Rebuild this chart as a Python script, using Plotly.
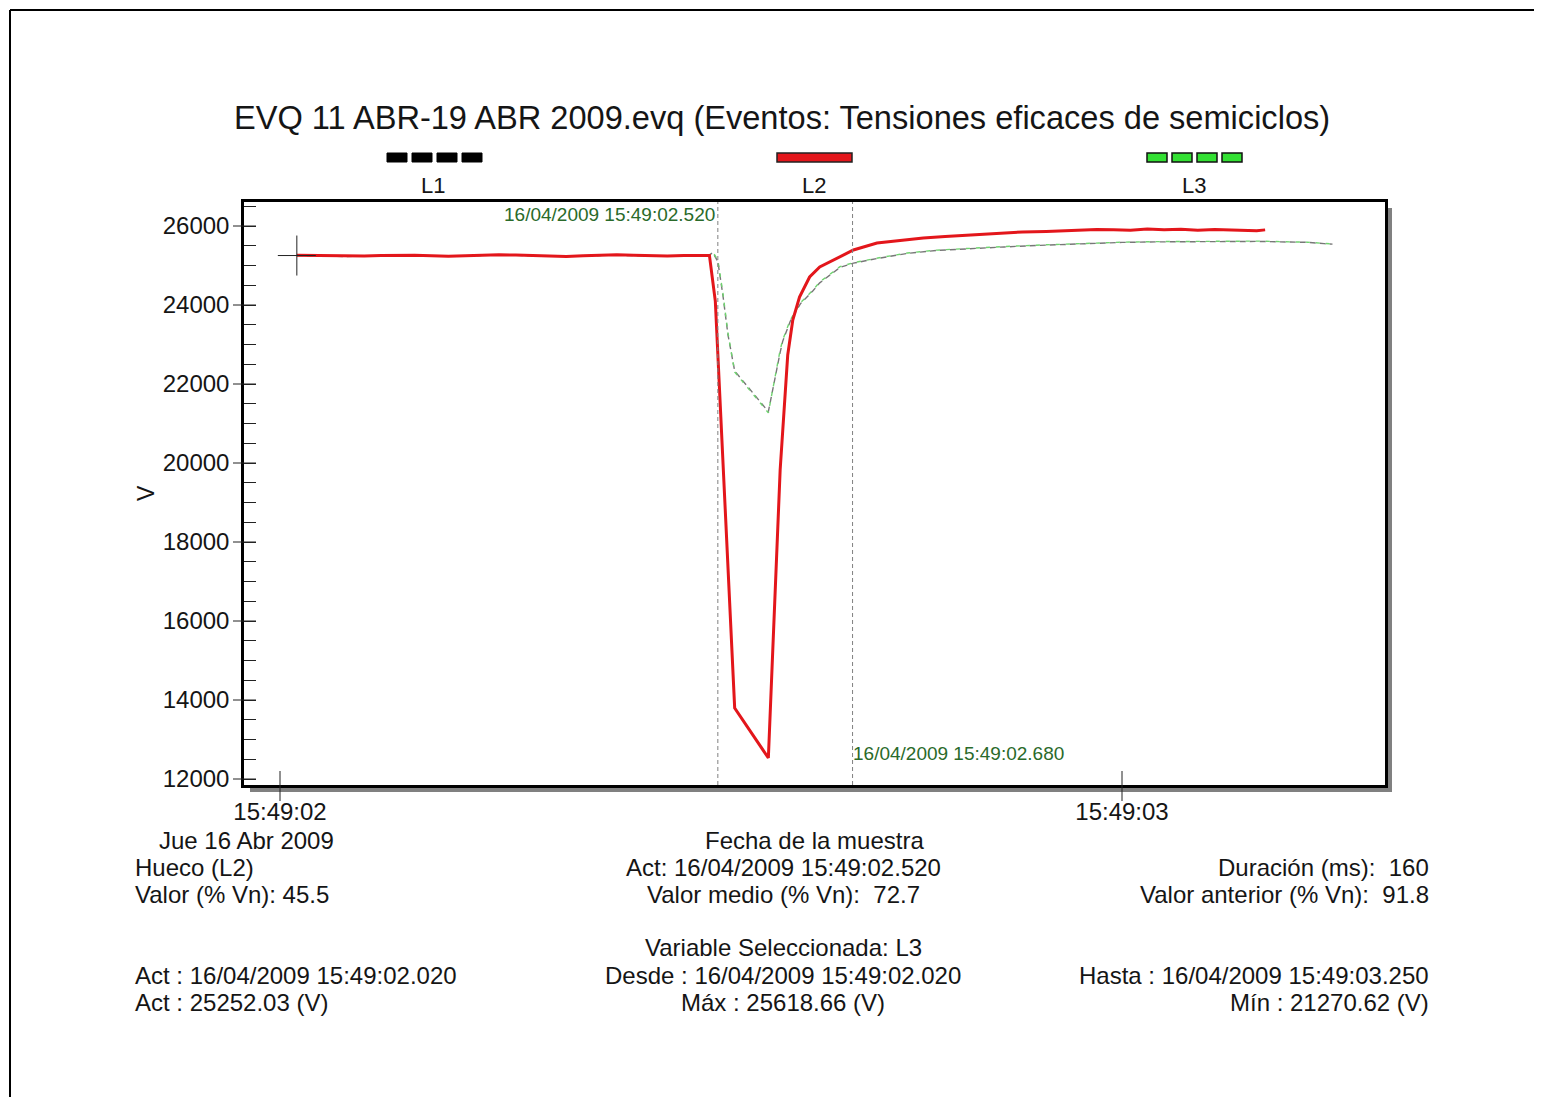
import plotly.graph_objects as go

# ---------------- data (seconds after 15:49:02, volts) ----------------
l2_t = [0.02, 0.04, 0.06, 0.08, 0.10, 0.12, 0.14, 0.16, 0.18, 0.20, 0.22, 0.24, 0.26,
        0.28, 0.30, 0.32, 0.34, 0.36, 0.38, 0.40, 0.42, 0.44, 0.46, 0.48, 0.50,
        0.510, 0.517, 0.540, 0.580, 0.594, 0.603, 0.609, 0.617, 0.629, 0.641, 0.665,
        0.681, 0.709, 0.74, 0.764, 0.79, 0.823, 0.85, 0.882, 0.91, 0.94, 0.97,
        0.99, 1.01, 1.03, 1.05, 1.07, 1.09, 1.11, 1.13, 1.15, 1.16, 1.17]
l2_v = [25262, 25258, 25250, 25232, 25240, 25256, 25268, 25262, 25250, 25236, 25244, 25260, 25272,
        25266, 25252, 25238, 25230, 25248, 25262, 25270, 25258, 25246, 25240, 25252, 25258,
        25255, 24100, 13797, 12532, 19823, 22734, 23620, 24203, 24709, 24962, 25215,
        25392, 25570, 25640, 25696, 25735, 25772, 25800, 25850, 25862, 25885, 25911,
        25905, 25895, 25925, 25905, 25915, 25890, 25912, 25898, 25878, 25882, 25902]

l13_t = [0.02, 0.04, 0.06, 0.08, 0.10, 0.12, 0.14, 0.16, 0.18, 0.20, 0.22, 0.24, 0.26,
         0.28, 0.30, 0.32, 0.34, 0.36, 0.38, 0.40, 0.42, 0.44, 0.46, 0.48, 0.50,
         0.510, 0.514, 0.520, 0.526, 0.532, 0.540, 0.580, 0.594, 0.597, 0.606, 0.618,
         0.633, 0.641, 0.665, 0.681, 0.71, 0.745, 0.78, 0.823, 0.86, 0.903, 0.94, 0.97,
         1.00, 1.04, 1.08, 1.12, 1.16, 1.20, 1.22, 1.24, 1.25]
l3_v = [25252, 25246, 25240, 25228, 25236, 25250, 25262, 25258, 25244, 25232, 25240, 25255, 25266,
        25260, 25248, 25234, 25226, 25242, 25256, 25264, 25254, 25242, 25236, 25248, 25254,
        25260, 25342, 25139, 24300, 23300, 22304, 21271, 22861, 23114, 23620, 24051,
        24380, 24582, 24970, 25071, 25190, 25316, 25390, 25443, 25480, 25519, 25550, 25577,
        25590, 25605, 25612, 25600, 25618, 25598, 25590, 25560, 25545]
l1_v = [25258, 25250, 25236, 25226, 25242, 25254, 25264, 25256, 25240, 25230, 25246, 25258, 25268,
        25258, 25244, 25230, 25232, 25250, 25260, 25262, 25250, 25240, 25242, 25254, 25256,
        25262, 25330, 25100, 24250, 23250, 22330, 21300, 22800, 23080, 23590, 24030,
        24360, 24560, 24950, 25060, 25180, 25305, 25380, 25435, 25470, 25510, 25545, 25570,
        25585, 25598, 25606, 25596, 25610, 25594, 25586, 25555, 25540]

x_tickvals = [0, 1]
x_ticktext = ["15:49:02", "15:49:03"]
y_tickvals = [12000, 14000, 16000, 18000, 20000, 22000, 24000, 26000]
cursor_times = [0.520, 0.680]
cursor_labels = ["16/04/2009 15:49:02.520", "16/04/2009 15:49:02.680"]
act_point = (0.020, 25252.03)

# ---------------- geometry helpers (reference pixel coordinates) ----------------
W, H = 1542, 1097
OFF = 8  # page body margin
L, R, T, B = 244, 1385, 202, 785
def px(x): return (x - L) / (R - L)
def py(y): return (B - y) / (B - T)

FONT = "Liberation Sans, Arial, sans-serif"
TXT = "#151515"
GREEN_TXT = "#2a6a2a"

fig = go.Figure()
fig.add_trace(go.Scatter(x=l13_t, y=l1_v, mode="lines", name="L1",
                         line=dict(color="#777777", width=1.4, dash="6px,4px")))
fig.add_trace(go.Scatter(x=l13_t, y=l3_v, mode="lines", name="L3",
                         line=dict(color="#6fd36f", width=1.4, dash="4px,6px")))
fig.add_trace(go.Scatter(x=l2_t, y=l2_v, mode="lines", name="L2",
                         line=dict(color="#e3161b", width=3)))

shapes = []
for ct in cursor_times:
    shapes.append(dict(type="line", xref="x", yref="paper", x0=ct, x1=ct, y0=0, y1=1,
                       line=dict(color="#808080", width=1, dash="4px,3px")))
shapes.append(dict(type="line", xref="x", yref="y", xsizemode="pixel", xanchor=act_point[0],
                   x0=-19, x1=19, y0=act_point[1], y1=act_point[1],
                   line=dict(color="#222222", width=1)))
shapes.append(dict(type="line", xref="x", yref="y", ysizemode="pixel", yanchor=act_point[1],
                   y0=-20, y1=20, x0=act_point[0], x1=act_point[0],
                   line=dict(color="#222222", width=1)))
# y major ticks crossing the axis
for v in y_tickvals:
    shapes.append(dict(type="line", xref="paper", yref="y", x0=-11 / (R - L), x1=12 / (R - L),
                       y0=v, y1=v, line=dict(color="#222222", width=1)))
# x major ticks crossing the axis
for v in x_tickvals:
    shapes.append(dict(type="line", xref="x", yref="paper", x0=v, x1=v,
                       y0=-16 / (B - T), y1=14 / (B - T),
                       line=dict(color="#222222", width=1)))
# frame shadow
shapes.append(dict(type="rect", xref="paper", yref="paper", x0=px(1386), x1=px(1392),
                   y0=py(792), y1=py(208), fillcolor="#808080", line=dict(width=0), layer="below"))
shapes.append(dict(type="rect", xref="paper", yref="paper", x0=px(250), x1=px(1392),
                   y0=py(792), y1=py(786), fillcolor="#808080", line=dict(width=0), layer="below"))
# page border (top and left)
shapes.append(dict(type="line", xref="paper", yref="paper", x0=px(10), x1=px(1541),
                   y0=py(10), y1=py(10), line=dict(color="#000000", width=2)))
shapes.append(dict(type="line", xref="paper", yref="paper", x0=px(10), x1=px(10),
                   y0=py(10), y1=py(1097), line=dict(color="#000000", width=2)))
# legend swatches
for i in range(4):
    x0 = 387 + i * 25
    shapes.append(dict(type="rect", xref="paper", yref="paper", x0=px(x0), x1=px(x0 + 20),
                       y0=py(162), y1=py(153), fillcolor="#000000", line=dict(color="#000000", width=1)))
    x0 = 1147 + i * 25
    shapes.append(dict(type="rect", xref="paper", yref="paper", x0=px(x0), x1=px(x0 + 20),
                       y0=py(162), y1=py(153), fillcolor="#33e033", line=dict(color="#111111", width=1.5)))
shapes.append(dict(type="rect", xref="paper", yref="paper", x0=px(777), x1=px(852),
                   y0=py(162), y1=py(153), fillcolor="#e3161b", line=dict(color="#222222", width=1.5)))

ann = []
def add_text(text, x, y, anchor="center", size=24, color=TXT, angle=0):
    ann.append(dict(text=text, x=px(x), y=py(y), xref="paper", yref="paper", showarrow=False,
                    xanchor=anchor, yanchor="middle", textangle=angle,
                    font=dict(family=FONT, size=size, color=color)))

LEFTX, RIGHTX = 133, 1431
add_text("EVQ 11 ABR-19 ABR 2009.evq (Eventos: Tensiones eficaces de semiciclos)", 782, 118, size=32.6)
add_text("L1", 433, 186, size=22)
add_text("L2", 814, 186, size=22)
add_text("L3", 1194, 186, size=22)
add_text(cursor_labels[0], 717, 214, anchor="right", size=19, color=GREEN_TXT)
add_text(cursor_labels[1], 851, 753, anchor="left", size=19, color=GREEN_TXT)
add_text("V", 146, 493, size=23, angle=-90)
add_text("Jue 16 Abr 2009", 246, 840)
add_text("Fecha de la muestra", 814, 840)
add_text("Hueco (L2)", LEFTX, 867, anchor="left")
add_text("Valor (% Vn): 45.5", LEFTX, 894, anchor="left")
add_text("Act: 16/04/2009 15:49:02.520", 783, 867)
add_text("Valor medio (% Vn):  72.7", 783, 894)
add_text("Duración (ms):  160", RIGHTX, 867, anchor="right")
add_text("Valor anterior (% Vn):  91.8", RIGHTX, 894, anchor="right")
add_text("Variable Seleccionada: L3", 783, 948)
add_text("Act : 16/04/2009 15:49:02.020", LEFTX, 975, anchor="left")
add_text("Act : 25252.03 (V)", LEFTX, 1002, anchor="left")
add_text("Desde : 16/04/2009 15:49:02.020", 783, 975)
add_text("Máx : 25618.66 (V)", 783, 1002)
add_text("Hasta : 16/04/2009 15:49:03.250", RIGHTX, 975, anchor="right")
add_text("Mín : 21270.62 (V)", RIGHTX, 1002, anchor="right")

x0r = (L - 280) / 842
x1r = (R - 280) / 842
y_top = 26000 + (226 - T) / 39.5 * 1000
y_bot = 12000 - (B - 779) / 39.5 * 1000

fig.update_layout(
    width=W - OFF, height=H - OFF,
    margin=dict(l=L - OFF, r=W - R, t=T - OFF, b=H - B, pad=0),
    paper_bgcolor="white", plot_bgcolor="white",
    showlegend=False,
    font=dict(family=FONT, size=24, color=TXT),
    shapes=shapes, annotations=ann,
    xaxis=dict(range=[x0r, x1r], tickvals=x_tickvals, ticktext=x_ticktext,
               ticks="outside", ticklen=3, tickcolor="rgba(0,0,0,0)", tickwidth=1,
               showgrid=False, zeroline=False, showline=True, linecolor="#000000",
               linewidth=2.5, mirror=True, tickfont=dict(size=24)),
    yaxis=dict(range=[y_bot, y_top], tickvals=y_tickvals, tickformat="d",
               ticks="outside", ticklen=7, tickcolor="rgba(0,0,0,0)", tickwidth=1,
               minor=dict(ticks="inside", dtick=500, ticklen=12, tickcolor="#222222", tickwidth=1),
               showgrid=False, zeroline=False, showline=True, linecolor="#000000",
               linewidth=2.5, mirror=True, tickfont=dict(size=24)),
)

fig.write_html("out.html")
